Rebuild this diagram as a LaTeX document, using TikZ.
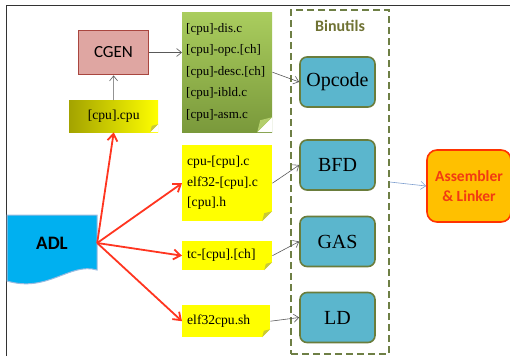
\documentclass[tikz,border=0pt]{standalone}
\usepackage{fontspec}
\setmainfont{Liberation Serif}
\newfontfamily\calibri{Carlito}
\usetikzlibrary{arrows.meta,positioning}
\definecolor{noteyellow}{HTML}{FFFF00}
\definecolor{notefold}{HTML}{C9C936}
\definecolor{olivenote}{HTML}{A3A300}
\definecolor{greentop}{HTML}{AACD5E}
\definecolor{greenbottom}{HTML}{7A993B}
\definecolor{greenfold}{HTML}{B3CE6C}
\definecolor{cgenfill}{HTML}{DFA6A2}
\definecolor{cgenline}{HTML}{A9463F}
\definecolor{toolfill}{HTML}{5BB6CD}
\definecolor{toolline}{HTML}{6A7D3C}
\definecolor{binutilsline}{HTML}{6E7F45}
\definecolor{binutilstext}{HTML}{6F7233}
\definecolor{adlfill}{HTML}{00B0F0}
\definecolor{adlline}{HTML}{9BBBE0}
\definecolor{asmfill}{HTML}{FFC000}
\definecolor{asmline}{HTML}{FF3300}
\definecolor{asmtext}{HTML}{F23A12}
\definecolor{flowred}{HTML}{FF3520}
\definecolor{asmlink}{HTML}{7F9FCF}
\newcommand\colorLink{black!65}
\newcommand\colorFrame{black!80}

\tikzset{
	note/.style={anchor=north west, inner xsep=5pt, inner ysep=0pt, align=left, font=\fontsize{13.6}{20.5}\selectfont},
	fold/.style 2 args={path picture={
		\coordinate (fc) at (path picture bounding box.south east);
		\fill[white] ([yshift=#2]fc) -- (fc) -- ([xshift=-#2]fc) -- cycle;
		\fill[#1] ([yshift=#2]fc) -- ([xshift=-#2]fc) -- ([xshift=-0.8*#2, yshift=0.8*#2]fc) -- cycle;
	}},
	tool/.style={draw=toolline, line width=1.6pt, fill=toolfill, rounded corners=7pt, minimum width=75pt, minimum height=50pt, font=\fontsize{20}{24}\selectfont},
	link/.style={->, >={Straight Barb[length=5pt,width=8pt]}, color=\colorLink, line width=0.6pt},
	flow/.style={->, >={Straight Barb[length=7pt,width=10pt]}, color=flowred, line width=1.8pt},
}

\begin{document}
\begin{tikzpicture}[x=1pt, y=-1pt]
		\useasboundingbox (0,0) rectangle (510,356);
		\draw[color=\colorFrame, line width=1pt] (6,356) -- (6,5) -- (510,5);
	
		\node[draw=cgenline, fill=cgenfill, line width=1.8pt, minimum width=70pt, minimum height=44pt, font=\calibri\fontsize{17}{20}\selectfont] (cgen) at (113.5,52.5) {CGEN};
		\node[note, fold={notefold}{8pt}, left color=olivenote, right color=noteyellow, text width=79pt, minimum height=32pt, align=center] (cpusrc) at (69,100) {[cpu].cpu};
	
		\node[note, fold={greenfold}{15pt}, top color=greentop, bottom color=greenbottom, inner xsep=4pt, text width=82pt, minimum height=120pt, font=\fontsize{13}{21.5}\selectfont] (opcsrc) at (182,12) {\mbox{[cpu]-dis.c}\\\mbox{[cpu]-opc.[ch]}\\\mbox{[cpu]-desc.[ch]}\\\mbox{[cpu]-ibld.c}\\\mbox{[cpu]-asm.c}};
		\node[note, fold={notefold}{10pt}, fill=noteyellow, text width=80pt, minimum height=76pt] (bfdsrc) at (182,145) {cpu-[cpu].c\\elf32-[cpu].c\\{}[cpu].h};
		\node[note, fold={notefold}{8pt}, fill=noteyellow, text width=80pt, minimum height=29pt] (gassrc) at (182,241) {tc-[cpu].[ch]};
		\node[note, fold={notefold}{8pt}, fill=noteyellow, text width=78pt, minimum height=32pt] (ldsrc) at (182,305) {elf32cpu.sh};
	
		\node[draw=binutilsline, dash pattern=on 7pt off 4pt, line width=1.5pt, minimum width=98pt, minimum height=344pt] (binutils) at (340,182) {};
		\node[below=10pt of binutils.north, inner sep=1pt, text=binutilstext, font=\calibri\bfseries\fontsize{16}{18}\selectfont] (binutilslabel) {Binutils};
	
		\foreach \name/\txt/\y in {opcode/Opcode/82, bfd/BFD/165, gas/GAS/241.5, ld/LD/317.5}{
			\node[tool] (\name) at (337.5,\y) {\txt};
		}
	
		\node[draw=asmline, fill=asmfill, line width=1.6pt, rounded corners=10pt, minimum width=84pt, minimum height=72pt, align=center, text=asmtext, font=\calibri\bfseries\fontsize{15.5}{20}\selectfont] (asm) at (469,186) {Assembler\\\& Linker};
	
		\filldraw[fill=adlfill, draw=adlline, line width=1pt] (7,215) -- (97,215) -- (97,270) .. controls (70,262) and (48,293) .. (7,281) -- cycle;
		\node[minimum width=90pt, inner sep=0pt, font=\calibri\bfseries\fontsize{19}{22}\selectfont] (adl) at (52,243) {ADL};
	
		\draw[link] (cpusrc) -- (cgen);
		\draw[link] (cgen.east) -- (cgen.east -| opcsrc.west);
		\draw[link] (opcsrc.east) -- (opcode.west);
		\draw[link] (bfdsrc.east) -- (bfd.west);
		\draw[link] (gassrc.east) -- (gas.west);
		\draw[link] (ldsrc.east) -- (ld.west);
		\draw[link, color=asmlink] (binutils.east) -- (asm.west);
	
		\foreach \dst in {cpusrc.south, bfdsrc.west, gassrc.west, ldsrc.west}{
			\draw[flow] (adl.east) -- (\dst);
		}
	\end{tikzpicture}
\end{document}
